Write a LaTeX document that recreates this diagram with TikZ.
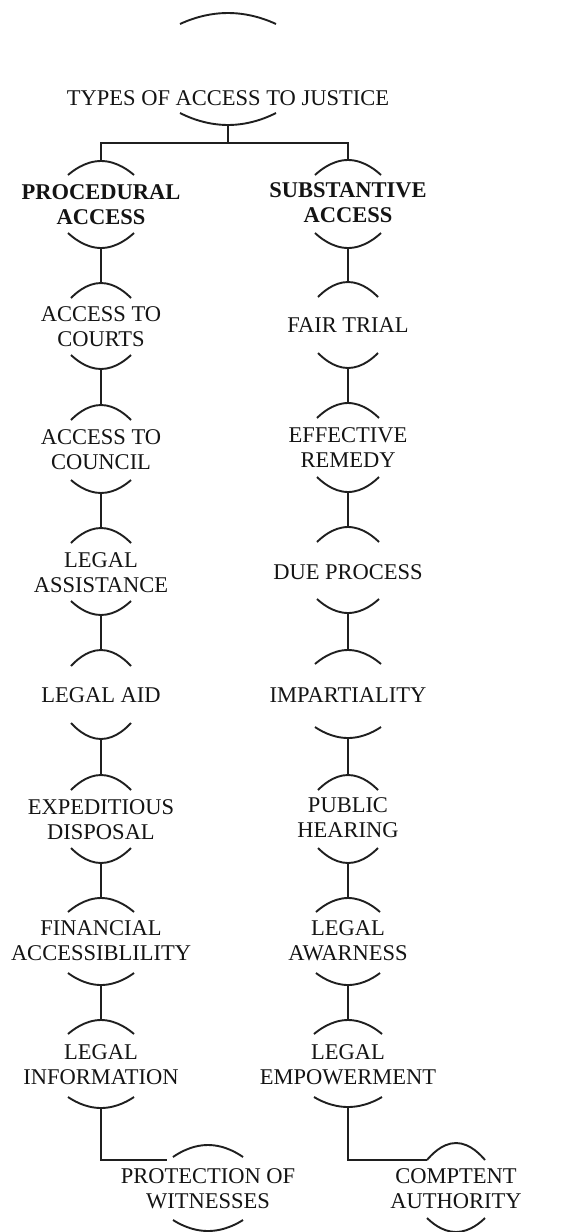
\documentclass[tikz,border=0pt]{standalone}
\usepackage{fontspec}
\setmainfont{Liberation Serif}
\newcommand\capmark[5]{%
  \coordinate (#1) at (#2,#3);
  \draw[capline] (#2-#5,#4) parabola bend (#2,#3) (#2+#5,#4);}
\begin{document}
\begin{tikzpicture}[x=1pt,y=-1pt,
  lbl/.style={inner sep=0pt, align=center, font=\fontsize{22.5}{25}\selectfont, text=black!92},
  blbl/.style={lbl, font=\fontsize{22.5}{25}\selectfont\bfseries},
  capline/.style={line width=1.9pt, draw=black!88},
  link/.style={line width=1.9pt, draw=black!88}]
\useasboundingbox[fill=white] (0,0) rectangle (576,1232);

% title
\capmark{topdeco}{228}{13}{24}{48}
\node[lbl] (title) at (228,98) {TYPES OF ACCESS TO JUSTICE};
\capmark{Tb}{228}{125}{113}{48}
\coordinate (J) at (228,143);

% left column
\capmark{L1t}{101}{161}{175}{33}
\node[blbl] (L1) at (101,205) {PROCEDURAL\\ACCESS};
\capmark{L1b}{101}{248}{233}{33}

\capmark{L2t}{101}{283}{298}{30}
\node[lbl] (L2) at (101,327) {ACCESS TO\\COURTS};
\capmark{L2b}{101}{369}{355}{30}

\capmark{L3t}{101}{405}{420}{30}
\node[lbl] (L3) at (101,449.5) {ACCESS TO\\COUNCIL};
\capmark{L3b}{101}{493}{480}{30}

\capmark{L4t}{101}{528}{543}{30}
\node[lbl] (L4) at (101,572.5) {LEGAL\\ASSISTANCE};
\capmark{L4b}{101}{615}{601}{30}

\capmark{L5t}{101}{650}{666}{30}
\node[lbl] (L5) at (101,695) {LEGAL AID};
\capmark{L5b}{101}{739}{723}{30}

\capmark{L6t}{101}{775}{790}{30}
\node[lbl] (L6) at (101,819.5) {EXPEDITIOUS\\DISPOSAL};
\capmark{L6b}{101}{863}{848}{30}

\capmark{L7t}{101}{898}{912}{33}
\node[lbl] (L7) at (101,940.5) {FINANCIAL\\ACCESSIBLILITY};
\capmark{L7b}{101}{985}{973}{33}

\capmark{L8t}{101}{1020}{1034}{33}
\node[lbl] (L8) at (101,1065) {LEGAL\\INFORMATION};
\capmark{L8b}{101}{1108}{1097}{33}

\capmark{L9t}{208}{1145}{1157}{35}
\node[lbl] (L9) at (208,1188.5) {PROTECTION OF\\WITNESSES};
\capmark{L9b}{208}{1231}{1220}{35}
\coordinate (Lend) at (167,1160);

% right column
\capmark{R1t}{348}{160}{175}{33}
\node[blbl] (R1) at (348,203) {SUBSTANTIVE\\ACCESS};
\capmark{R1b}{348}{248}{233}{33}

\capmark{R2t}{348}{282}{297}{30}
\node[lbl] (R2) at (348,325) {FAIR TRIAL};
\capmark{R2b}{348}{368}{353}{30}

\capmark{R3t}{348}{403}{418}{31}
\node[lbl] (R3) at (348,448) {EFFECTIVE\\REMEDY};
\capmark{R3b}{348}{492}{477}{31}

\capmark{R4t}{348}{527}{542}{31}
\node[lbl] (R4) at (348,572) {DUE PROCESS};
\capmark{R4b}{348}{613}{599}{31}

\capmark{R5t}{348}{650}{664}{33}
\node[lbl] (R5) at (348,695) {IMPARTIALITY};
\capmark{R5b}{348}{738}{727}{33}

\capmark{R6t}{348}{775}{790}{30}
\node[lbl] (R6) at (348,817.5) {PUBLIC\\HEARING};
\capmark{R6b}{348}{863}{848}{30}

\capmark{R7t}{348}{898}{912}{32}
\node[lbl] (R7) at (348,940.5) {LEGAL\\AWARNESS};
\capmark{R7b}{348}{985}{973}{32}

\capmark{R8t}{348}{1020}{1034}{34}
\node[lbl] (R8) at (348,1065) {LEGAL\\EMPOWERMENT};
\capmark{R8b}{348}{1107}{1097}{34}

\capmark{R9t}{456}{1143}{1160}{29}
\node[lbl] (R9) at (456,1188.5) {COMPTENT\\AUTHORITY};
\capmark{R9b}{456}{1232}{1218}{29}
\coordinate (R9l) at (427,1160);

% connectors
\draw[link] (Tb) -- (J);
\draw[link] (J) -| (L1t);
\draw[link] (J) -| (R1t);
\draw[link] (L1b) -- (L2t);
\draw[link] (L2b) -- (L3t);
\draw[link] (L3b) -- (L4t);
\draw[link] (L4b) -- (L5t);
\draw[link] (L5b) -- (L6t);
\draw[link] (L6b) -- (L7t);
\draw[link] (L7b) -- (L8t);
\draw[link] (L8b) |- (Lend);
\draw[link] (R1b) -- (R2t);
\draw[link] (R2b) -- (R3t);
\draw[link] (R3b) -- (R4t);
\draw[link] (R4b) -- (R5t);
\draw[link] (R5b) -- (R6t);
\draw[link] (R6b) -- (R7t);
\draw[link] (R7b) -- (R8t);
\draw[link] (R8b) |- (R9l);
\end{tikzpicture}
\end{document}
